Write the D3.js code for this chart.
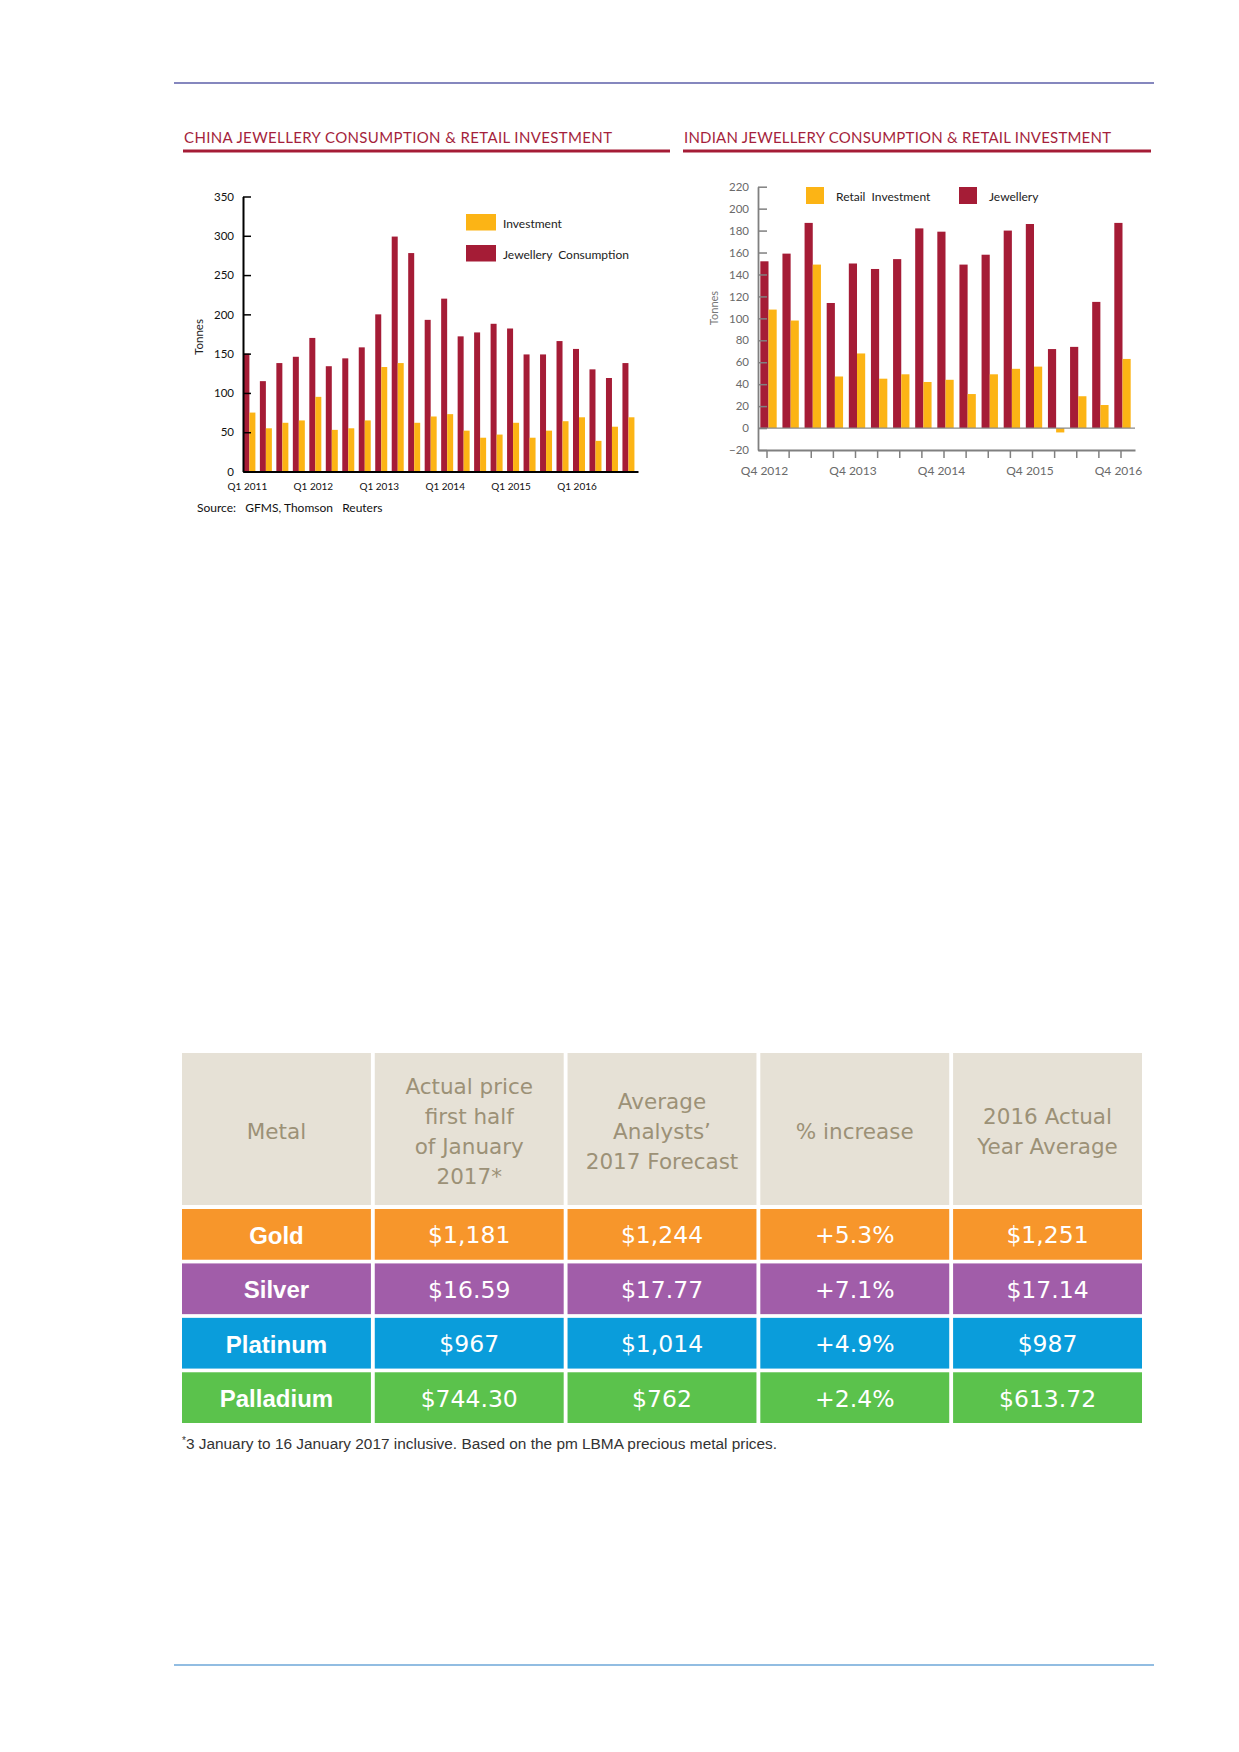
<!DOCTYPE html>
<html>
<head>
<meta charset="utf-8">
<script src="https://cdn.jsdelivr.net/npm/d3@7/dist/d3.min.js"></script>
<style>
  html, body { margin: 0; padding: 0; background: #fff; }
  svg { display: block; }
</style>
</head>
<body>
<div id="page"></div>
<script>
// China chart data (tonnes, Q1 2011 - Q4 2016)
const chinaQuarters = [
  'Q1 2011', 'Q2 2011', 'Q3 2011', 'Q4 2011',
  'Q1 2012', 'Q2 2012', 'Q3 2012', 'Q4 2012',
  'Q1 2013', 'Q2 2013', 'Q3 2013', 'Q4 2013',
  'Q1 2014', 'Q2 2014', 'Q3 2014', 'Q4 2014',
  'Q1 2015', 'Q2 2015', 'Q3 2015', 'Q4 2015',
  'Q1 2016', 'Q2 2016', 'Q3 2016', 'Q4 2016',
];
const chinaJewellery = [150, 115, 138, 146, 170, 134, 144, 158, 200, 299, 278, 193,
  220, 172, 177, 188, 182, 149, 149, 166, 156, 130, 119, 138];
const chinaInvestment = [75, 55, 62, 65, 95, 53, 55, 65, 133, 138, 62, 70,
  73, 52, 43, 47, 62, 43, 52, 64, 69, 39, 57, 69];
const chinaTicks = [0, 50, 100, 150, 200, 250, 300, 350];
const chinaLabels = ['Q1 2011', 'Q1 2012', 'Q1 2013', 'Q1 2014', 'Q1 2015', 'Q1 2016'];

// India chart data (tonnes, Q4 2012 - Q4 2016)
const indiaQuarters = [
  'Q4 2012', 'Q1 2013', 'Q2 2013', 'Q3 2013',
  'Q4 2013', 'Q1 2014', 'Q2 2014', 'Q3 2014',
  'Q4 2014', 'Q1 2015', 'Q2 2015', 'Q3 2015',
  'Q4 2015', 'Q1 2016', 'Q2 2016', 'Q3 2016',
  'Q4 2016',
];
const indiaJewellery = [152, 159, 187, 114, 150, 145, 154, 182, 179, 149, 158, 180, 186, 72, 74, 115, 187];
const indiaRetail = [108, 98, 149, 47, 68, 45, 49, 42, 44, 31, 49, 54, 56, -4, 29, 21, 63];
const indiaTicks = [-20, 0, 20, 40, 60, 80, 100, 120, 140, 160, 180, 200, 220];
const indiaLabels = ['Q4 2012', 'Q4 2013', 'Q4 2014', 'Q4 2015', 'Q4 2016'];

// Price table
const tableColumns = ['metal', 'janActual', 'forecast', 'increase', 'avg2016'];
const tableHeaders = [
  ['Metal'],
  ['Actual price', 'first half', 'of January', '2017*'],
  ['Average', 'Analysts\u2019', '2017 Forecast'],
  ['% increase'],
  ['2016 Actual', 'Year Average'],
];
const metals = ['Gold', 'Silver', 'Platinum', 'Palladium'];
const janActual = ['$1,181', '$16.59', '$967', '$744.30'];
const forecast2017 = ['$1,244', '$17.77', '$1,014', '$762'];
const pctIncrease = ['+5.3%', '+7.1%', '+4.9%', '+2.4%'];
const avg2016 = ['$1,251', '$17.14', '$987', '$613.72'];

const RED = '#a51c36';
const YELLOW = '#fcb415';
const TITLE_RED = '#a51f3c';
const rowColors = { Gold: '#f7962b', Silver: '#a15da9', Platinum: '#0a9ddb', Palladium: '#5bc24c' };
const chartFont = 'Lato, "Open Sans", sans-serif';

const W = 1239;
const H = 1752;

const svg = d3.select('#page').append('svg')
  .attr('width', W)
  .attr('height', H)
  .style('background', '#fff');

// page rules
svg.append('line')
  .attr('x1', 174).attr('x2', 1154).attr('y1', 83).attr('y2', 83)
  .attr('stroke', '#5d5fa9').attr('stroke-width', 1.5);
svg.append('line')
  .attr('x1', 174).attr('x2', 1154).attr('y1', 1665).attr('y2', 1665)
  .attr('stroke', '#6ea7d8').attr('stroke-width', 1.5);

function drawTitle(x, y, width, lineEnd, label) {
  svg.append('text')
    .attr('x', x)
    .attr('y', y)
    .attr('textLength', width)
    .attr('lengthAdjust', 'spacing')
    .style('font-family', chartFont)
    .style('font-size', '15px')
    .style('fill', TITLE_RED)
    .text(label);
  svg.append('rect')
    .attr('x', x - 1)
    .attr('y', 149.5)
    .attr('width', lineEnd - x + 1)
    .attr('height', 3)
    .style('fill', RED);
}

drawTitle(184, 143, 428, 670, 'CHINA JEWELLERY  CONSUMPTION  & RETAIL INVESTMENT');
drawTitle(684, 143, 427, 1151, 'INDIAN JEWELLERY  CONSUMPTION  &  RETAIL  INVESTMENT');

// ---------- China chart ----------
function drawChina() {
  const g = svg.append('g').attr('id', 'china');
  const x = d3.scaleBand()
    .domain(chinaQuarters)
    .range([243, 638])
    .paddingInner(0.272)
    .paddingOuter(0.12)
    .align(0.1);
  const y = d3.scaleLinear().domain([0, 350]).range([471.5, 196.5]);
  const half = x.bandwidth() / 2;

  g.append('g').selectAll('rect')
    .data(chinaQuarters)
    .enter()
    .append('rect')
    .attr('x', q => x(q))
    .attr('y', (q, i) => y(chinaJewellery[i]))
    .attr('width', half)
    .attr('height', (q, i) => y(0) - y(chinaJewellery[i]))
    .style('fill', RED);

  g.append('g').selectAll('rect')
    .data(chinaQuarters)
    .enter()
    .append('rect')
    .attr('x', q => x(q) + half)
    .attr('y', (q, i) => y(chinaInvestment[i]))
    .attr('width', half)
    .attr('height', (q, i) => y(0) - y(chinaInvestment[i]))
    .style('fill', YELLOW);

  const yAxis = g.append('g')
    .attr('transform', 'translate(243,0)')
    .call(d3.axisLeft(y).tickValues(chinaTicks).tickSize(-8).tickSizeOuter(0).tickPadding(9));
  yAxis.select('.domain').attr('stroke', '#000').attr('stroke-width', 2);
  yAxis.selectAll('.tick line').attr('stroke', '#000').attr('stroke-width', 1.5);
  yAxis.selectAll('text')
    .style('font-family', chartFont).style('font-size', '11.5px').style('fill', '#111');

  const xAxis = g.append('g')
    .attr('transform', 'translate(0,471.5)')
    .call(d3.axisBottom(x).tickValues(chinaLabels).tickSize(0).tickSizeOuter(0).tickPadding(11));
  xAxis.select('.domain').attr('stroke', '#000').attr('stroke-width', 2);
  xAxis.selectAll('text')
    .attr('dx', -2)
    .style('font-family', chartFont).style('font-size', '10px').style('fill', '#111');

  g.append('text')
    .attr('transform', 'translate(198,337) rotate(-90)')
    .attr('text-anchor', 'middle')
    .attr('dominant-baseline', 'central')
    .style('font-family', chartFont).style('font-size', '11.5px').style('fill', '#222')
    .text('Tonnes');

  // legend
  const legend = [
    { label: 'Investment', color: YELLOW, y: 214 },
    { label: 'Jewellery  Consumption', color: RED, y: 245 },
  ];
  const lg = g.append('g').selectAll('g')
    .data(legend)
    .enter()
    .append('g');
  lg.append('rect')
    .attr('x', 466).attr('y', d => d.y)
    .attr('width', 30).attr('height', 16.5)
    .style('fill', d => d.color);
  lg.append('text')
    .attr('x', 503).attr('y', d => d.y + 9)
    .attr('dominant-baseline', 'central')
    .style('font-family', chartFont).style('font-size', '12px').style('fill', '#222')
    .style('white-space', 'pre')
    .text(d => d.label);

  g.append('text')
    .attr('x', 197).attr('y', 507)
    .attr('dominant-baseline', 'central')
    .style('font-family', chartFont).style('font-size', '12px').style('fill', '#111')
    .style('white-space', 'pre')
    .text('Source:   GFMS, Thomson   Reuters');
}

// ---------- India chart ----------
function drawIndia() {
  const g = svg.append('g').attr('id', 'india');
  const x = d3.scaleBand()
    .domain(indiaQuarters)
    .range([758, 1135])
    .paddingInner(0.26)
    .paddingOuter(0.15)
    .align(0.35);
  const y = d3.scaleLinear().domain([-20, 220]).range([450, 186.7]);
  const half = x.bandwidth() / 2;

  g.append('g').selectAll('rect')
    .data(indiaQuarters)
    .enter()
    .append('rect')
    .attr('x', q => x(q))
    .attr('y', (q, i) => y(Math.max(0, indiaJewellery[i])))
    .attr('width', half)
    .attr('height', (q, i) => Math.abs(y(0) - y(indiaJewellery[i])))
    .style('fill', RED);

  g.append('g').selectAll('rect')
    .data(indiaQuarters)
    .enter()
    .append('rect')
    .attr('x', q => x(q) + half)
    .attr('y', (q, i) => y(Math.max(0, indiaRetail[i])))
    .attr('width', half)
    .attr('height', (q, i) => Math.abs(y(0) - y(indiaRetail[i])))
    .style('fill', YELLOW);

  // zero line
  g.append('line')
    .attr('x1', 758).attr('x2', 1135)
    .attr('y1', y(0)).attr('y2', y(0))
    .attr('stroke', '#8a8a8a').attr('stroke-width', 1.2);

  const yAxis = g.append('g')
    .attr('transform', 'translate(758,0)')
    .call(d3.axisLeft(y).tickValues(indiaTicks).tickSize(-9).tickSizeOuter(0).tickPadding(9));
  yAxis.select('.domain').attr('stroke', '#808080').attr('stroke-width', 1.8);
  yAxis.selectAll('.tick line').attr('stroke', '#808080').attr('stroke-width', 1.5);
  yAxis.selectAll('text')
    .style('font-family', chartFont).style('font-size', '11.5px').style('fill', '#6a6a6a');

  const xAxis = g.append('g')
    .attr('transform', `translate(0,${y(-20)})`)
    .call(d3.axisBottom(x)
      .tickSize(8)
      .tickSizeOuter(0)
      .tickPadding(8)
      .tickFormat(q => (indiaLabels.includes(q) ? q : '')));
  xAxis.select('.domain').attr('stroke', '#808080').attr('stroke-width', 1.8);
  xAxis.selectAll('.tick line').attr('stroke', '#808080').attr('stroke-width', 1.5)
    .attr('transform', 'translate(-1.5,0)');
  xAxis.selectAll('text')
    .attr('dx', -4)
    .style('font-family', chartFont).style('font-size', '12px').style('fill', '#6a6a6a');

  g.append('text')
    .attr('transform', 'translate(713,308) rotate(-90)')
    .attr('text-anchor', 'middle')
    .attr('dominant-baseline', 'central')
    .style('font-family', chartFont).style('font-size', '11px').style('fill', '#777')
    .text('Tonnes');

  const legend = [
    { label: 'Retail  Investment', color: YELLOW, x: 806 },
    { label: 'Jewellery', color: RED, x: 959 },
  ];
  const lg = g.append('g').selectAll('g')
    .data(legend)
    .enter()
    .append('g');
  lg.append('rect')
    .attr('x', d => d.x).attr('y', 187)
    .attr('width', 18).attr('height', 17)
    .style('fill', d => d.color);
  lg.append('text')
    .attr('x', d => d.x + 30).attr('y', 196)
    .attr('dominant-baseline', 'central')
    .style('font-family', chartFont).style('font-size', '12px').style('fill', '#222')
    .style('white-space', 'pre')
    .text(d => d.label);
}

// ---------- Price table ----------
function drawTable() {
  const g = svg.append('g').attr('id', 'table');
  const col = d3.scaleBand().domain(tableColumns).range([182, 1142]).paddingInner(0.02);
  const row = d3.scaleBand().domain(metals).range([1209, 1423]).paddingInner(0.068);
  const headTop = 1053;
  const headBottom = 1205;
  const headMid = (headTop + headBottom) / 2 + 2;
  const lineGap = 30;

  // header cells
  const head = g.append('g').selectAll('g')
    .data(tableColumns)
    .enter()
    .append('g');
  head.append('rect')
    .attr('x', c => col(c))
    .attr('y', headTop)
    .attr('width', col.bandwidth())
    .attr('height', headBottom - headTop)
    .style('fill', '#e6e1d6');
  head.each(function (c, i) {
    const lines = tableHeaders[i];
    d3.select(this).selectAll('text')
      .data(lines)
      .enter()
      .append('text')
      .attr('x', col(c) + col.bandwidth() / 2)
      .attr('y', (l, j) => headMid + (j - (lines.length - 1) / 2) * lineGap)
      .attr('text-anchor', 'middle')
      .attr('dominant-baseline', 'central')
      .style('font-family', '"DejaVu Sans", sans-serif')
      .style('font-size', '21.5px')
      .style('fill', '#9c9177')
      .text(l => l);
  });

  // body cells
  const cols = [metals, janActual, forecast2017, pctIncrease, avg2016];
  metals.forEach((m, r) => {
    const rg = g.append('g');
    rg.selectAll('rect')
      .data(tableColumns)
      .enter()
      .append('rect')
      .attr('x', c => col(c))
      .attr('y', row(m))
      .attr('width', col.bandwidth())
      .attr('height', row.bandwidth())
      .style('fill', rowColors[m]);
    rg.selectAll('text')
      .data(tableColumns)
      .enter()
      .append('text')
      .attr('x', c => col(c) + col.bandwidth() / 2)
      .attr('y', row(m) + row.bandwidth() / 2 + 1)
      .attr('text-anchor', 'middle')
      .attr('dominant-baseline', 'central')
      .style('font-family', (c, i) => (i === 0 ? '"Liberation Sans", Arial, sans-serif' : '"DejaVu Sans", sans-serif'))
      .style('font-weight', (c, i) => (i === 0 ? 'bold' : 'normal'))
      .style('font-size', (c, i) => (i === 0 ? '24px' : '23.5px'))
      .style('fill', '#fff')
      .text((c, i) => cols[i][r]);
  });

  // footnote
  const note = g.append('text')
    .attr('x', 182)
    .attr('y', 1448.5)
    .style('font-family', '"Liberation Sans", Arial, sans-serif')
    .style('font-size', '15.4px')
    .style('fill', '#333');
  note.append('tspan')
    .attr('dy', -5)
    .style('font-size', '10px')
    .text('*');
  note.append('tspan')
    .attr('dy', 5)
    .text('3 January to 16 January 2017 inclusive. Based on the pm LBMA precious metal prices.');
}

drawChina();
drawIndia();
drawTable();
</script>
</body>
</html>
